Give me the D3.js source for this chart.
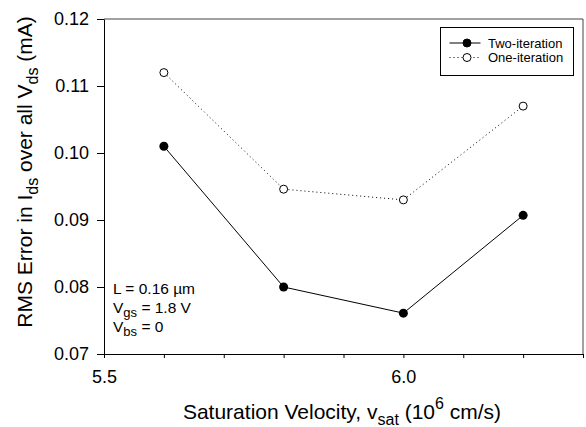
<!DOCTYPE html>
<html>
<head>
<meta charset="utf-8">
<script src="https://cdn.jsdelivr.net/npm/d3@7"></script>
<style>
  body { margin: 0; background: #fff; }
  text { font-family: "Liberation Sans", Arial, sans-serif; fill: #000; }
</style>
</head>
<body>
<script>
// data
var velocity = [5.6, 5.8, 6.0, 6.2];
var twoIter = [0.101, 0.080, 0.0761, 0.0907];
var oneIter = [0.112, 0.0946, 0.0930, 0.107];
var xTickVals = [5.5, 5.6, 5.7, 5.8, 5.9, 6.0, 6.1, 6.2, 6.3];
var xTickLabels = ["5.5", "6.0"];
var yTickVals = [0.07, 0.08, 0.09, 0.10, 0.11, 0.12];

var width = 586, height = 427;
var margin = {left: 104, right: 3, top: 19, bottom: 73};

var svg = d3.select("body").append("svg")
  .attr("width", width)
  .attr("height", height);

var x = d3.scaleLinear().domain([5.5, 6.3]).range([margin.left, width - margin.right]);
var y = d3.scaleLinear().domain([0.07, 0.12]).range([height - margin.bottom, margin.top]);

// frame (top + right)
svg.append("path")
  .attr("d", "M" + x(5.5) + "," + y(0.12) + "H" + x(6.3) + "V" + y(0.07))
  .attr("fill", "none")
  .attr("stroke", "#444")
  .attr("stroke-width", 1);

var xAxis = d3.axisBottom(x)
  .tickValues(xTickVals)
  .tickSize(4)
  .tickSizeOuter(0)
  .tickFormat(function(d) {
    var s = d3.format(".1f")(d);
    return xTickLabels.indexOf(s) >= 0 ? s : "";
  });
var gx = svg.append("g")
  .attr("transform", "translate(0," + y(0.07) + ")")
  .call(xAxis);
gx.select(".domain").attr("stroke", "#000");
gx.selectAll(".tick line").attr("stroke", "#000");
gx.selectAll("text").attr("font-size", 18).attr("y", 29).attr("dy", null);

var yAxis = d3.axisLeft(y)
  .tickValues(yTickVals)
  .tickSize(7)
  .tickSizeOuter(0)
  .tickFormat(d3.format(".2f"));
var gy = svg.append("g")
  .attr("transform", "translate(" + x(5.5) + ",0)")
  .call(yAxis);
gy.select(".domain").attr("stroke", "#000");
gy.selectAll(".tick line").attr("stroke", "#000");
gy.selectAll("text").attr("font-size", 18).attr("x", -15);

var pts = function(vals) { return velocity.map(function(v, i) { return [v, vals[i]]; }); };
var line = d3.line().x(function(d) { return x(d[0]); }).y(function(d) { return y(d[1]); });

svg.append("path")
  .attr("d", line(pts(oneIter)))
  .attr("fill", "none")
  .attr("stroke", "#000")
  .attr("stroke-width", 1)
  .attr("stroke-dasharray", "1,3");

svg.append("path")
  .attr("d", line(pts(twoIter)))
  .attr("fill", "none")
  .attr("stroke", "#000")
  .attr("stroke-width", 1);

svg.selectAll(".one").data(pts(oneIter)).enter().append("circle")
  .attr("cx", function(d) { return x(d[0]); })
  .attr("cy", function(d) { return y(d[1]); })
  .attr("r", 4)
  .attr("fill", "#fff")
  .attr("stroke", "#000");

svg.selectAll(".two").data(pts(twoIter)).enter().append("circle")
  .attr("cx", function(d) { return x(d[0]); })
  .attr("cy", function(d) { return y(d[1]); })
  .attr("r", 4.5)
  .attr("fill", "#000");

// legend
var lg = svg.append("g").attr("transform", "translate(440.5,27.5)");
lg.append("rect").attr("width", 133).attr("height", 48)
  .attr("fill", "#fff").attr("stroke", "#000");
var items = [
  {label: "Two-iteration", y: 15.5, dash: null, fill: "#000"},
  {label: "One-iteration", y: 30, dash: "1,3", fill: "#fff"}
];
items.forEach(function(it) {
  lg.append("line").attr("x1", 9).attr("x2", 40).attr("y1", it.y).attr("y2", it.y)
    .attr("stroke", "#000").attr("stroke-dasharray", it.dash);
  lg.append("circle").attr("cx", 26.5).attr("cy", it.y).attr("r", 4)
    .attr("fill", it.fill).attr("stroke", "#000");
  lg.append("text").attr("x", 47.5).attr("y", it.y).attr("dy", "0.35em")
    .attr("font-size", 13).text(it.label);
});

// annotation
var t1 = svg.append("text").attr("font-size", 15.5).attr("x", 113).attr("y", 294);
t1.text("L = 0.16 \u00b5m");
var t2 = svg.append("text").attr("font-size", 15.5).attr("x", 113).attr("y", 313);
t2.append("tspan").text("V");
t2.append("tspan").attr("font-size", 13).attr("dy", 4).text("gs");
t2.append("tspan").attr("dy", -4).text(" = 1.8 V");
var t3 = svg.append("text").attr("font-size", 15.5).attr("x", 113).attr("y", 332);
t3.append("tspan").text("V");
t3.append("tspan").attr("font-size", 13).attr("dy", 4).text("bs");
t3.append("tspan").attr("dy", -4).text(" = 0");

// x title
var xt = svg.append("text").attr("font-size", 21).attr("text-anchor", "middle")
  .attr("x", 342).attr("y", 419);
xt.append("tspan").text("Saturation Velocity, v");
xt.append("tspan").attr("font-size", 16).attr("dy", 6).text("sat");
xt.append("tspan").attr("dy", -6).text(" (10");
xt.append("tspan").attr("font-size", 16).attr("dy", -10).text("6");
xt.append("tspan").attr("dy", 10).text(" cm/s)");

// y title
var yt = svg.append("text").attr("font-size", 21).attr("text-anchor", "middle")
  .attr("transform", "translate(32,172) rotate(-90)");
yt.append("tspan").text("RMS Error in I");
yt.append("tspan").attr("font-size", 16).attr("dy", 6).text("ds");
yt.append("tspan").attr("dy", -6).text(" over all V");
yt.append("tspan").attr("font-size", 16).attr("dy", 6).text("ds");
yt.append("tspan").attr("dy", -6).text(" (mA)");
</script>
</body>
</html>
